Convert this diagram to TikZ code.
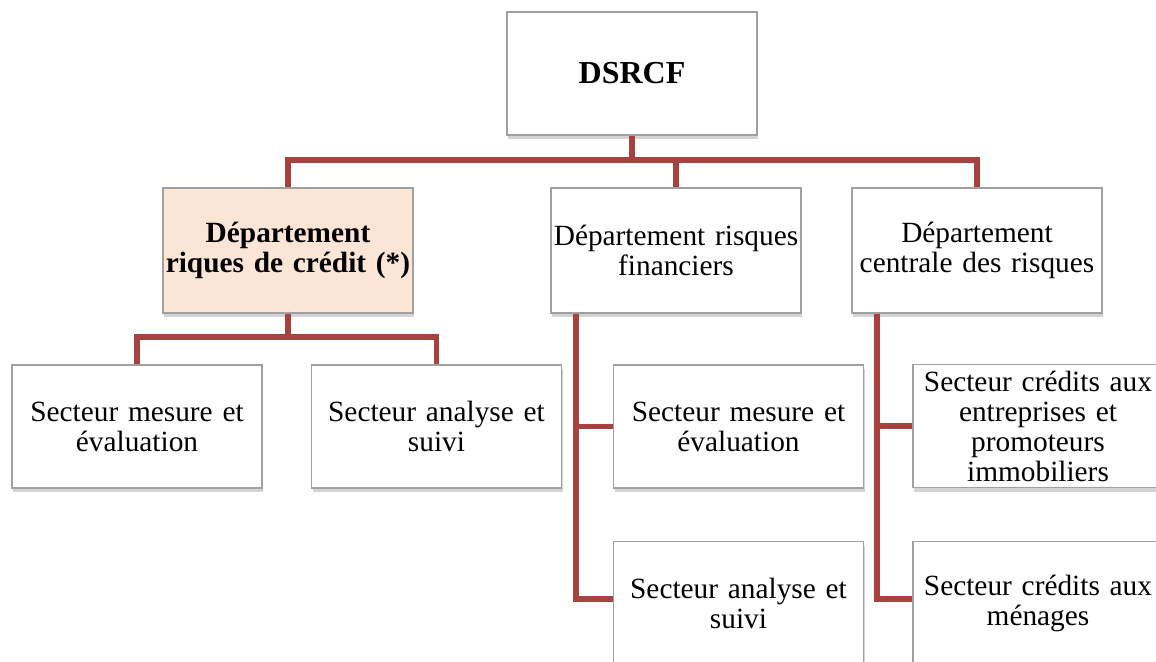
\documentclass[tikz,border=0pt]{standalone}
\usepackage{fontspec}
\setmainfont{Liberation Serif}
\usetikzlibrary{positioning, shadows}

\definecolor{linkred}{RGB}{168,66,64}
\definecolor{peach}{RGB}{251,229,214}
\definecolor{boxgray}{RGB}{160,160,160}

\begin{document}
\begin{tikzpicture}[x=0.75pt,y=-0.75pt,
    box/.style={draw=boxgray, line width=0.8pt, fill=white,
        minimum width=187.5pt, minimum height=92.25pt, text width=187.5pt,
        align=center, inner sep=0pt, font=\fontsize{22}{22.5}\selectfont,
        drop shadow={shadow xshift=1pt, shadow yshift=-3pt, opacity=0.35}},
    link/.style={draw=linkred, line width=4.2pt}]
    \useasboundingbox (0,0) rectangle (1156,661);

    % top and departments
    \node[box, font=\fontsize{24}{25}\selectfont\bfseries] (dsrcf) at (632,73.5) {DSRCF};
    \node[box, fill=peach, minimum height=93.75pt] (deptcredit) at (288,250.5) {\bfseries D\'epartement\\riques de cr\'edit (*)};
    \node[box, minimum height=93.75pt] (deptrisk) at (676,250.5) {D\'epartement risques\\financiers};
    \node[box, minimum height=93.75pt] (deptcentral) at (977,250.5) {D\'epartement\\centrale des risques};

    % sectors
    \node[box] (mesure1) at (137,426.5) {Secteur mesure et\\\'evaluation};
    \node[box] (analyse1) at (436.5,426.5) {Secteur analyse et\\suivi};
    \node[box] (mesure2) at (738.5,426.5) {Secteur mesure et\\\'evaluation};
    \node[box] (analyse2) at (738.5,603) {Secteur analyse et\\suivi};
    \node[box] (credent) at (1038,426) {Secteur cr\'edits aux\\entreprises et\\promoteurs\\immobiliers};
    \node[box] (credmen) at (1038,603) {Secteur cr\'edits aux\\m\'enages};

    % connectors
    \coordinate (bus) at (632,160);
    \coordinate (subbus) at (288,337);
    \coordinate (riskspine) at ([xshift=-75pt]deptrisk.south);
    \coordinate (centralspine) at ([xshift=-75pt]deptcentral.south);

    \draw[link] (dsrcf.south) -- (bus);
    \draw[link] (deptcredit.north) |- (bus) -| (deptcentral.north);
    \draw[link] (deptrisk.north) -- (deptrisk.north |- bus);

    \draw[link] (deptcredit.south) -- (subbus);
    \draw[link] (mesure1.north) |- (subbus) -| (analyse1.north);

    \draw[link] (riskspine) |- ([yshift=3pt]analyse2.west);
    \draw[link] (mesure2.west) -- (mesure2.west -| riskspine);
    \draw[link] (centralspine) |- ([yshift=3pt]credmen.west);
    \draw[link] (credent.west) -- (credent.west -| centralspine);
\end{tikzpicture}
\end{document}
